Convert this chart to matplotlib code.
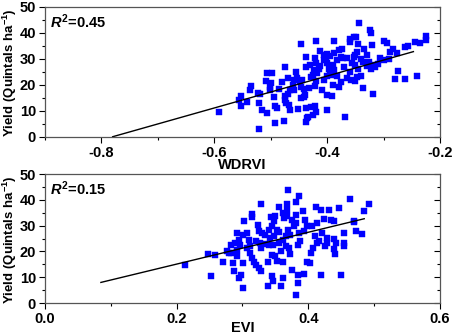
import matplotlib
matplotlib.use('Agg')
import matplotlib.pyplot as plt
from matplotlib.ticker import MultipleLocator

plt.rcParams['font.family'] = ['Liberation Sans', 'DejaVu Sans']
plt.rcParams['font.weight'] = 'bold'
plt.rcParams['axes.unicode_minus'] = False
plt.rcParams['mathtext.fontset'] = 'custom'
plt.rcParams['mathtext.rm'] = 'Liberation Sans:bold'
plt.rcParams['mathtext.it'] = 'Liberation Sans:italic:bold'
plt.rcParams['mathtext.bf'] = 'Liberation Sans:bold'

# WDRVI vs yield
wdrvi_x = [-0.591, -0.344, -0.324, -0.322, -0.352, -0.360, -0.360, -0.348, -0.447, -0.419,
           -0.387, -0.346, -0.321, -0.300, -0.294, -0.244, -0.235, -0.225, -0.225, -0.256,
           -0.262, -0.374, -0.379, -0.388, -0.412, -0.406, -0.400, -0.335, -0.347, -0.350,
           -0.353, -0.284, -0.288, -0.276, -0.438, -0.475, -0.438, -0.422, -0.419, -0.402,
           -0.395, -0.376, -0.371, -0.364, -0.382, -0.389, -0.400, -0.397, -0.387, -0.412,
           -0.424, -0.418, -0.425, -0.351, -0.336, -0.329, -0.326, -0.321, -0.322, -0.306,
           -0.300, -0.291, -0.315, -0.506, -0.497, -0.469, -0.459, -0.453, -0.448, -0.444,
           -0.429, -0.406, -0.400, -0.391, -0.382, -0.365, -0.358, -0.350, -0.347, -0.340,
           -0.509, -0.535, -0.536, -0.518, -0.501, -0.501, -0.485, -0.466, -0.459, -0.447,
           -0.441, -0.432, -0.422, -0.279, -0.274, -0.262, -0.240, -0.409, -0.401, -0.391,
           -0.378, -0.337, -0.318, -0.552, -0.556, -0.553, -0.542, -0.522, -0.521, -0.515,
           -0.506, -0.494, -0.493, -0.488, -0.475, -0.474, -0.472, -0.468, -0.465, -0.452,
           -0.446, -0.441, -0.437, -0.429, -0.425, -0.421, -0.419, -0.400, -0.521, -0.492,
           -0.476, -0.438, -0.436, -0.434, -0.368, -0.430, -0.415, -0.405, -0.395, -0.370,
           -0.360, -0.355, -0.345, -0.340, -0.330, -0.310, -0.455, -0.460, -0.480, -0.500,
           -0.470, -0.440, -0.420, -0.390, -0.375]
wdrvi_y = [9.7, 43.6, 41.2, 40.0, 38.4, 37.6, 36.6, 38.4, 35.8, 37.0,
           36.9, 35.8, 35.4, 36.7, 36.1, 36.5, 36.1, 38.7, 37.1, 34.8,
           34.6, 33.9, 33.3, 32.2, 32.9, 31.6, 32.0, 33.8, 32.5, 31.6,
           30.7, 33.8, 32.6, 32.2, 30.7, 26.8, 26.7, 30.3, 28.4, 30.7,
           30.9, 30.7, 30.3, 30.3, 29.6, 27.7, 28.4, 26.0, 25.8, 27.1,
           25.8, 24.5, 23.8, 27.7, 28.6, 27.1, 28.6, 27.7, 26.2, 30.3,
           29.6, 29.9, 26.7, 24.5, 24.7, 22.7, 21.9, 22.6, 21.3, 21.9,
           22.9, 21.9, 23.2, 23.8, 23.5, 22.6, 21.9, 21.3, 22.9, 23.5,
           21.3, 19.6, 18.0, 16.4, 19.1, 18.0, 18.3, 18.0, 18.0, 19.1,
           18.3, 18.7, 19.6, 22.3, 25.1, 22.2, 23.2, 17.8, 15.9, 15.5,
           19.3, 18.7, 16.4, 15.7, 14.2, 11.9, 13.5, 16.8, 12.9, 10.3,
           9.3, 15.1, 11.9, 11.0, 15.5, 14.2, 12.9, 12.2, 10.3, 10.7,
           14.8, 15.1, 11.2, 11.3, 8.4, 11.9, 9.7, 10.3, 2.8, 5.4,
           6.2, 5.8, 7.1, 7.7, 7.5, 27.5, 26.0, 29.5, 24.5, 27.0,
           25.0, 28.5, 26.0, 30.0, 31.5, 28.0, 25.0, 19.8, 21.0, 20.5,
           16.5, 16.0, 21.5, 20.0, 21.0]
wdrvi_fit = (61.4, 47.9)      # slope, intercept
wdrvi_fit_x = [-0.78, -0.247]
wdrvi_r2 = '0.45'

# EVI vs yield
evi_x = [0.212, 0.248, 0.258, 0.252, 0.270, 0.369, 0.386, 0.381, 0.328, 0.463,
         0.492, 0.484, 0.469, 0.470, 0.481, 0.472, 0.454, 0.447, 0.439, 0.434,
         0.424, 0.420, 0.411, 0.431, 0.392, 0.395, 0.398, 0.394, 0.382, 0.381,
         0.378, 0.386, 0.388, 0.384, 0.368, 0.367, 0.367, 0.363, 0.361, 0.355,
         0.350, 0.348, 0.345, 0.352, 0.355, 0.343, 0.340, 0.330, 0.334, 0.325,
         0.323, 0.315, 0.315, 0.302, 0.292, 0.295, 0.296, 0.307, 0.311, 0.320,
         0.327, 0.328, 0.335, 0.340, 0.346, 0.355, 0.361, 0.366, 0.371, 0.359,
         0.373, 0.350, 0.345, 0.339, 0.353, 0.361, 0.376, 0.384, 0.394, 0.385,
         0.381, 0.361, 0.359, 0.345, 0.339, 0.346, 0.328, 0.320, 0.312, 0.315,
         0.317, 0.325, 0.301, 0.298, 0.295, 0.301, 0.287, 0.285, 0.283, 0.291,
         0.292, 0.280, 0.398, 0.403, 0.404, 0.407, 0.414, 0.416, 0.410, 0.426,
         0.419, 0.449, 0.439, 0.442, 0.454, 0.454, 0.439, 0.440, 0.429, 0.406,
         0.414, 0.421, 0.429, 0.376, 0.369, 0.373, 0.366, 0.348, 0.342, 0.307,
         0.301, 0.310, 0.288, 0.282, 0.277]
evi_y = [14.6, 19.0, 18.5, 10.3, 16.1, 43.7, 41.3, 39.0, 38.5, 40.4,
         38.4, 35.8, 31.7, 31.4, 26.9, 27.8, 27.1, 36.8, 31.7, 32.3,
         32.6, 36.2, 37.2, 36.2, 35.8, 32.3, 29.7, 28.0, 34.2, 31.0,
         29.7, 27.1, 23.9, 22.6, 38.4, 36.2, 33.6, 32.9, 34.9, 37.1,
         33.6, 31.7, 29.7, 28.4, 27.4, 33.2, 28.4, 27.1, 26.5, 27.8,
         30.4, 34.5, 33.2, 31.7, 27.1, 24.5, 22.6, 21.3, 22.0, 24.2,
         23.3, 21.3, 22.9, 22.4, 22.4, 23.3, 24.5, 22.0, 21.3, 20.3,
         19.0, 18.1, 18.5, 16.1, 16.4, 16.1, 12.9, 11.0, 11.2, 7.8,
         3.0, 9.9, 6.5, 10.3, 6.5, 8.4, 12.5, 14.9, 19.4, 17.4,
         16.1, 13.6, 15.5, 11.0, 9.7, 5.8, 12.3, 15.5, 19.4, 18.1,
         20.7, 19.4, 16.1, 15.5, 19.4, 21.3, 23.3, 24.2, 25.8, 22.0,
         11.0, 11.0, 21.1, 23.3, 23.3, 22.0, 24.9, 19.0, 23.3, 29.7,
         31.0, 27.1, 25.2, 32.3, 28.4, 26.5, 25.8, 25.8, 25.2, 27.1,
         26.5, 24.5, 23.3, 22.6, 20.0]
evi_fit = (61.7, 2.76)
evi_fit_x = [0.085, 0.485]
evi_r2 = '0.15'


def draw_panel(ax, x, y, fit, fit_x, r2, xlabel, xlim, xmajor, xlabel_y):
    ax.plot(x, y, 's', color='#0000ff', ms=4.8, mec='#0000ff', mew=0.3)
    fy = [fit[0] * v + fit[1] for v in fit_x]
    ax.plot(fit_x, fy, color='black', lw=1.0)
    ax.set_xlim(xlim)
    ax.set_ylim(0, 50)
    ax.xaxis.set_major_locator(MultipleLocator(xmajor))
    ax.xaxis.set_minor_locator(MultipleLocator(xmajor / 2))
    ax.yaxis.set_major_locator(MultipleLocator(10))
    ax.yaxis.set_minor_locator(MultipleLocator(5))
    ax.tick_params(axis='both', which='major', direction='out', length=4.5, width=0.8,
                   labelsize=10.5, pad=2)
    ax.tick_params(axis='both', which='minor', direction='out', length=2.5, width=0.8)
    ax.tick_params(axis='y', which='both', right=True)
    for lab in ax.get_xticklabels() + ax.get_yticklabels():
        lab.set_fontweight('bold')
    for sp in ax.spines.values():
        sp.set_color('#555555')
        sp.set_linewidth(0.9)
    ax.set_xlabel(xlabel, fontsize=10.5, fontweight='bold', va='center')
    ax.xaxis.set_label_coords(0.5, xlabel_y)
    ax.set_ylabel('Yield (Quintals ha$^{-1}$)', fontsize=9.5, fontweight='bold')
    ax.yaxis.set_label_coords(-0.066, 0.49)
    ax.text(0.013, 0.955, '$R^2$=' + r2, transform=ax.transAxes, fontsize=10.5,
            fontweight='bold', va='top', ha='left')


fig = plt.figure(figsize=(4.54, 3.36), dpi=100)
ax1 = fig.add_axes([0.099, 0.593, 0.870, 0.387])
ax2 = fig.add_axes([0.099, 0.098, 0.870, 0.384])

draw_panel(ax1, wdrvi_x, wdrvi_y, wdrvi_fit, wdrvi_fit_x, wdrvi_r2, 'WDRVI',
           (-0.9, -0.2), 0.2, -0.215)
draw_panel(ax2, evi_x, evi_y, evi_fit, evi_fit_x, evi_r2, 'EVI',
           (0.0, 0.6), 0.2, -0.195)

# right side ticks point inward like the original
for ax in (ax1, ax2):
    for t in ax.yaxis.get_major_ticks() + ax.yaxis.get_minor_ticks():
        t.tick2line.set_marker(matplotlib.lines.TICKLEFT)

fig.savefig('out.png', dpi=100)
